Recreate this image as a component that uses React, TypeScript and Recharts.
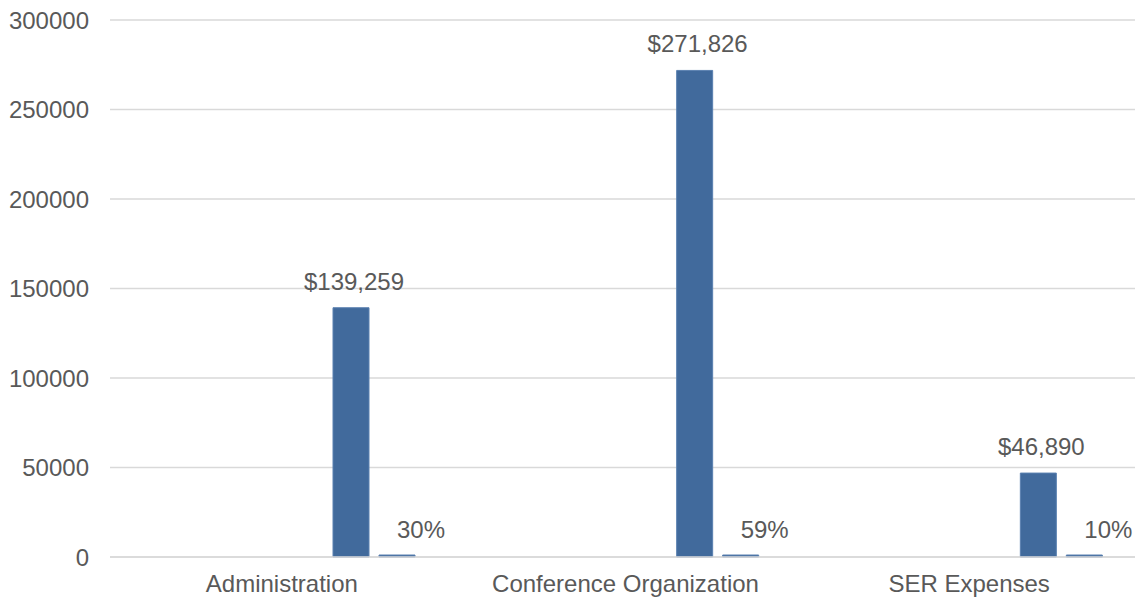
import React from "react";
import { BarChart, Bar, XAxis, YAxis, CartesianGrid, LabelList } from "recharts";

const categories = ["Administration", "Conference Organization", "SER Expenses"];
const amounts = [139259, 271826, 46890];
const shares = [0.3, 0.59, 0.1];
// the sheet had four empty columns charted before the two filled ones
const emptyKeys = ["e1", "e2", "e3", "e4"];
const yTicks = [0, 50000, 100000, 150000, 200000, 250000, 300000];

const BAR = "#416a9c";
const TEXT = "#595959";
const GRID = "#d9d9d9";
const FONT = "'Liberation Sans', Arial, sans-serif";

const data = categories.map((name, i) => ({
  name,
  e1: null,
  e2: null,
  e3: null,
  e4: null,
  amount: amounts[i],
  share: shares[i],
}));

const money = (v: number) => "$" + v.toLocaleString("en-US");
const pct = (v: number) => Math.round(v * 100) + "%";

function makeLabel(fmt: (v: number) => string, dx: number, lift: number) {
  return (p: any) => {
    const vb = p.viewBox ?? p;
    const x = Number(vb.x) + Number(vb.width) / 2 + dx;
    const y = Number(vb.y) - lift;
    return (
      <text x={x} y={y} textAnchor="middle" fill={TEXT} fontSize={24} fontFamily={FONT}>
        {fmt(Number(p.value))}
      </text>
    );
  };
}

export default function App() {
  return (
    <div style={{ position: "absolute", left: 0, top: 0, width: 1135, height: 601, overflow: "hidden", background: "#fff" }}>
      <BarChart
        width={1142}
        height={601}
        data={data}
        margin={{ top: 20, right: 1, bottom: 0, left: 0 }}
        barSize={36}
        barGap={10}
      >
        <CartesianGrid vertical={false} stroke={GRID} strokeWidth={1.5} />
        <XAxis
          dataKey="name"
          height={44}
          tickLine={false}
          axisLine={{ stroke: GRID, strokeWidth: 1.5 }}
          tickMargin={12}
          tick={{ fill: TEXT, fontSize: 24, fontFamily: FONT }}
        />
        <YAxis
          width={110}
          domain={[0, 300000]}
          ticks={yTicks}
          interval={0}
          axisLine={false}
          tickLine={false}
          tickMargin={15}
          tick={{ fill: TEXT, fontSize: 24, fontFamily: FONT }}
        />
        {emptyKeys.map((k) => (
          <Bar key={k} dataKey={k} fill={BAR} isAnimationActive={false} />
        ))}
        <Bar dataKey="amount" fill={BAR} stroke="#5a80b0" strokeWidth={1} isAnimationActive={false}>
          <LabelList dataKey="amount" content={makeLabel(money, 3, 18)} />
        </Bar>
        <Bar dataKey="share" fill={BAR} stroke="#5a80b0" strokeWidth={1} minPointSize={2} isAnimationActive={false}>
          <LabelList dataKey="share" content={makeLabel(pct, 24, 17)} />
        </Bar>
      </BarChart>
    </div>
  );
}
